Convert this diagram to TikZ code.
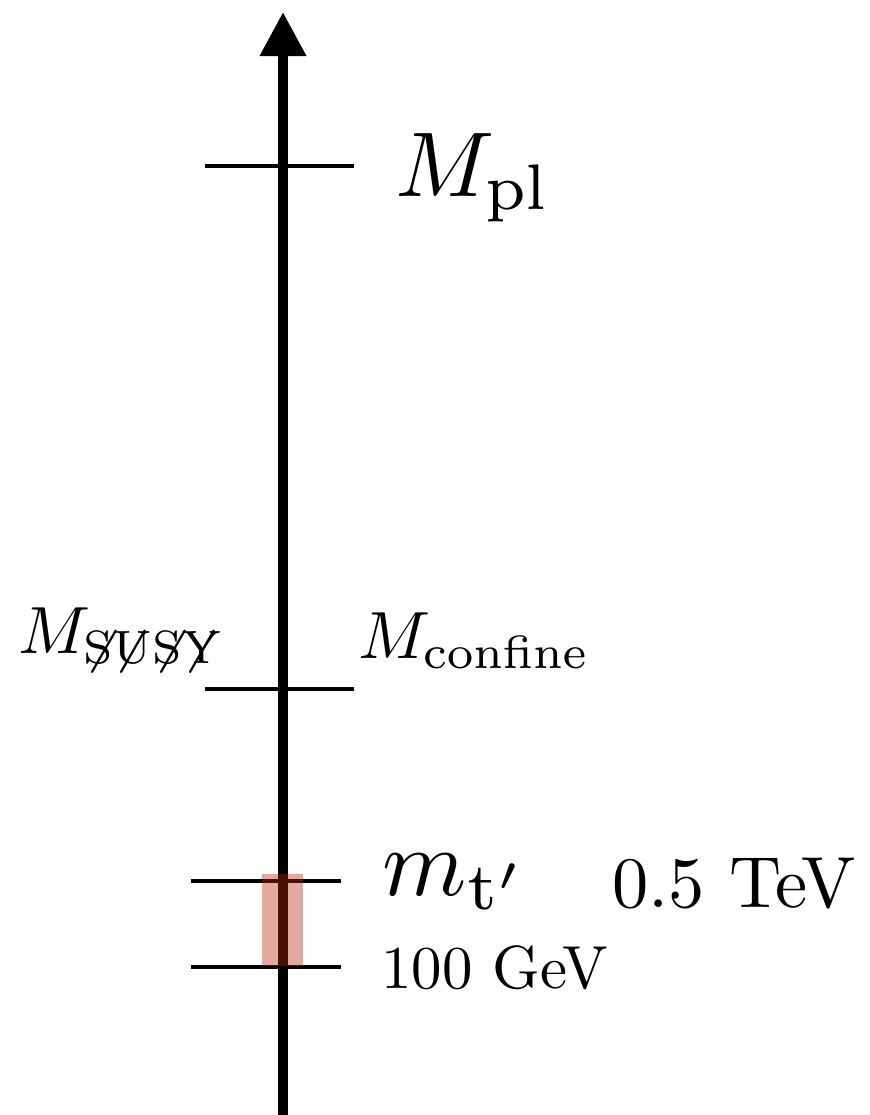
\documentclass[tikz,border=0pt]{standalone}
\usepackage{amsmath,amssymb}
\usepackage{tikz}
\usetikzlibrary{arrows.meta, positioning}
\definecolor{band1}{RGB}{185,40,12}

\begin{document}
\begin{tikzpicture}[x=0.25pt, y=-0.25pt,
    energyaxis/.style={line width=2.5pt, -{Triangle[width=11pt,length=11pt]}},
    tickline/.style={line width=1.1pt},
    scalelabel/.style={anchor=base west, inner sep=0pt, scale=#1},
    band/.style={fill=band1, fill opacity=0.4, draw=none}
]
        \useasboundingbox (0,0) rectangle (869,1115);

        \coordinate (bottom) at(283,1115);
        \coordinate (top) at(283,12);
        \draw[energyaxis] (bottom) -- (top);

        \draw[tickline] (205,166) -- (354,166);
        \draw[tickline] (205,689) -- (354,689);
        \draw[tickline] (191,881) -- (341,881);
        \draw[tickline] (191,967) -- (341,967);

        \node[scalelabel=2.3, name=Mpl] at(394,196) {$M_{\mathrm{pl}}$};
        \node[scalelabel=1.67, name=Msusy] at(17,653) {$M_{\not\mathrm{S}\not\mathrm{U}\not\mathrm{S}\not\mathrm{Y}}$};
        \node[scalelabel=1.67, name=Mconf] at(357,658) {$M_{\mathrm{confine}}$};
        \node[scalelabel=2.4, name=mtp] at(381,895) {$m_{\mathrm{t}'}$};
        \node[scalelabel=1.81, name=tev] at(611,907) {0.5 TeV};
        \node[scalelabel=1.52, name=gev] at(380,988) {100 GeV};

        \fill[band] (262,874) rectangle (303,966);
    \end{tikzpicture}
\end{document}
